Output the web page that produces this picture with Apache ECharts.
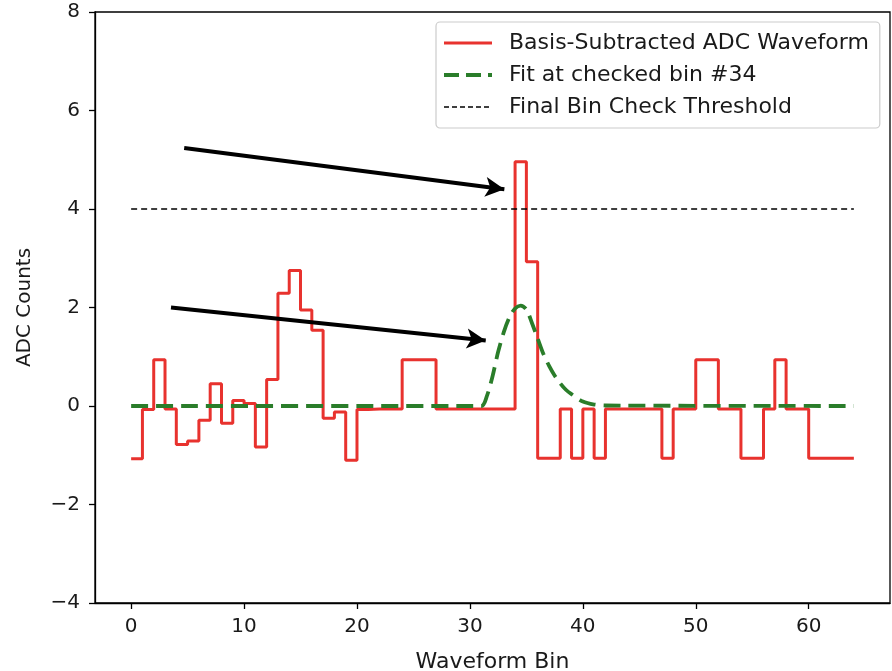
<!DOCTYPE html>
<html><head><meta charset="utf-8">
<script src="https://cdn.jsdelivr.net/npm/echarts@6/dist/echarts.min.js"></script>
<style>html,body{margin:0;padding:0;background:#fff}#c{width:892px;height:671px}</style>
</head><body><div id="c"></div>
<script>
// ---- data ----
const bins = [0,1,2,3,4,5,6,7,8,9,10,11,12,13,14,15,16,17,18,19,20,21,22,23,24,25,26,27,28,29,30,31,32,33,34,35,36,37,38,39,40,41,42,43,44,45,46,47,48,49,50,51,52,53,54,55,56,57,58,59,60,61,62,63,64];
const waveform = [-1.07,-0.07,0.94,-0.06,-0.78,-0.71,-0.29,0.45,-0.35,0.11,0.05,-0.83,0.54,2.29,2.75,1.95,1.54,-0.25,-0.12,-1.10,
  -0.07,-0.06,-0.06,-0.06,0.94,0.94,0.94,-0.06,-0.06,-0.06,-0.06,-0.06,-0.06,-0.06,4.96,2.93,-1.06,-1.06,-0.06,-1.06,
  -0.06,-1.06,-0.06,-0.06,-0.06,-0.06,-0.06,-1.06,-0.06,-0.06,0.94,0.94,-0.06,-0.06,-1.06,-1.06,-0.06,0.94,-0.06,-0.06,
  -1.06,-1.06,-1.06,-1.06,-1.06];
const fitX = [0,31,31.5,32,32.5,33,33.5,34,34.5,35,35.5,36,36.5,37,37.5,38,38.5,39,40,41,42,64];
const fitY = [0,0,0.2,0.6,1.1,1.5,1.8,1.98,2.04,1.96,1.68,1.37,1.06,0.82,0.62,0.46,0.33,0.24,0.09,0.03,0.01,0];
const thresholdX = [0,64];
const thresholdY = [4,4];
const xTicks = [0,10,20,30,40,50,60];
const arrowStarts = [[4.70,5.24],[3.53,2.00]];
const arrowEnds = [[33.05,4.40],[31.40,1.33]];
const names = ['Basis-Subtracted ADC Waveform','Fit at checked bin #34','Final Bin Check Threshold'];

// ---- build ----
const zip = (xs, ys) => xs.map((x,i)=>[x,ys[i]]);
const FONT = 'DejaVu Sans';
const RED = '#e8322e', GREEN = '#2a7d2a';
const chart = echarts.init(document.getElementById('c'), null, {renderer:'canvas'});
const minus = v => String(v).replace('-', '\u2212');

chart.setOption({
  animation:false,
  backgroundColor:'#fff',
  textStyle:{fontFamily:FONT},
  grid:{left:95, right:2, top:12, bottom:68, outerBoundsMode:'none', containLabel:false,
        show:true, borderColor:'#000', borderWidth:1.3, backgroundColor:'transparent'},
  legend:{
    data:[
      {name:names[0], lineStyle:{color:RED, width:3, type:'solid'}},
      {name:names[1], lineStyle:{color:GREEN, width:4, type:[15,7]}},
      {name:names[2], lineStyle:{color:'#000', width:1.5, type:[5,3]}}
    ],
    orient:'vertical', left:436, top:22,
    padding:[10,11,10,6], itemGap:10, itemWidth:48, itemHeight:14,
    itemStyle:{opacity:0},
    backgroundColor:'rgba(255,255,255,0.85)', borderColor:'#cccccc', borderWidth:1.2, borderRadius:4,
    textStyle:{fontFamily:FONT, fontSize:22, color:'#1a1a1a', lineHeight:22, padding:[0,0,0,12]}
  },
  xAxis:{
    type:'value', min:-3.2, max:67.2,
    name:'Waveform Bin', nameLocation:'middle', nameGap:48,
    nameTextStyle:{fontFamily:FONT, fontSize:22, color:'#1a1a1a'},
    axisLine:{show:true, onZero:false, lineStyle:{color:'#000', width:1.3}},
    axisTick:{show:true, inside:false, length:6, lineStyle:{color:'#000', width:1.3}, customValues:xTicks},
    axisLabel:{fontFamily:FONT, fontSize:20, color:'#1a1a1a', margin:14, customValues:xTicks},
    splitLine:{show:false}
  },
  yAxis:{
    type:'value', min:-4, max:8, interval:2,
    name:'ADC Counts', nameLocation:'middle', nameGap:60,
    nameTextStyle:{fontFamily:FONT, fontSize:20, color:'#1a1a1a'},
    axisLine:{show:true, onZero:false, lineStyle:{color:'#000', width:1.3}},
    axisTick:{show:true, inside:false, length:6, lineStyle:{color:'#000', width:1.3}},
    axisLabel:{fontFamily:FONT, fontSize:20, color:'#1a1a1a', margin:15, formatter:v=>minus(v)},
    splitLine:{show:false}
  },
  series:[
    {name:names[0], type:'line', step:'end', data:zip(bins, waveform), showSymbol:false, symbol:'none',
     lineStyle:{color:RED, width:3}, itemStyle:{color:RED}, z:2},
    {name:names[1], type:'line', data:zip(fitX, fitY), showSymbol:false, symbol:'none', smooth:0.3,
     lineStyle:{color:GREEN, width:3.8, type:[17,8]}, itemStyle:{color:GREEN}, z:3},
    {name:names[2], type:'line', data:zip(thresholdX, thresholdY), showSymbol:false, symbol:'none',
     lineStyle:{color:'#000', width:1.5, type:[6,4]}, itemStyle:{color:'#000'}, z:4},
    {name:'arrows', type:'line', data:[], z:5,
     markLine:{silent:true, animation:false, symbol:['none','arrow'], symbolSize:[15,19],
       label:{show:false}, lineStyle:{color:'#000', width:4, type:'solid'},
       emphasis:{disabled:true},
       data:arrowStarts.map((s,i)=>[{coord:s},{coord:arrowEnds[i]}])}}
  ]
});
</script>
</body></html>
